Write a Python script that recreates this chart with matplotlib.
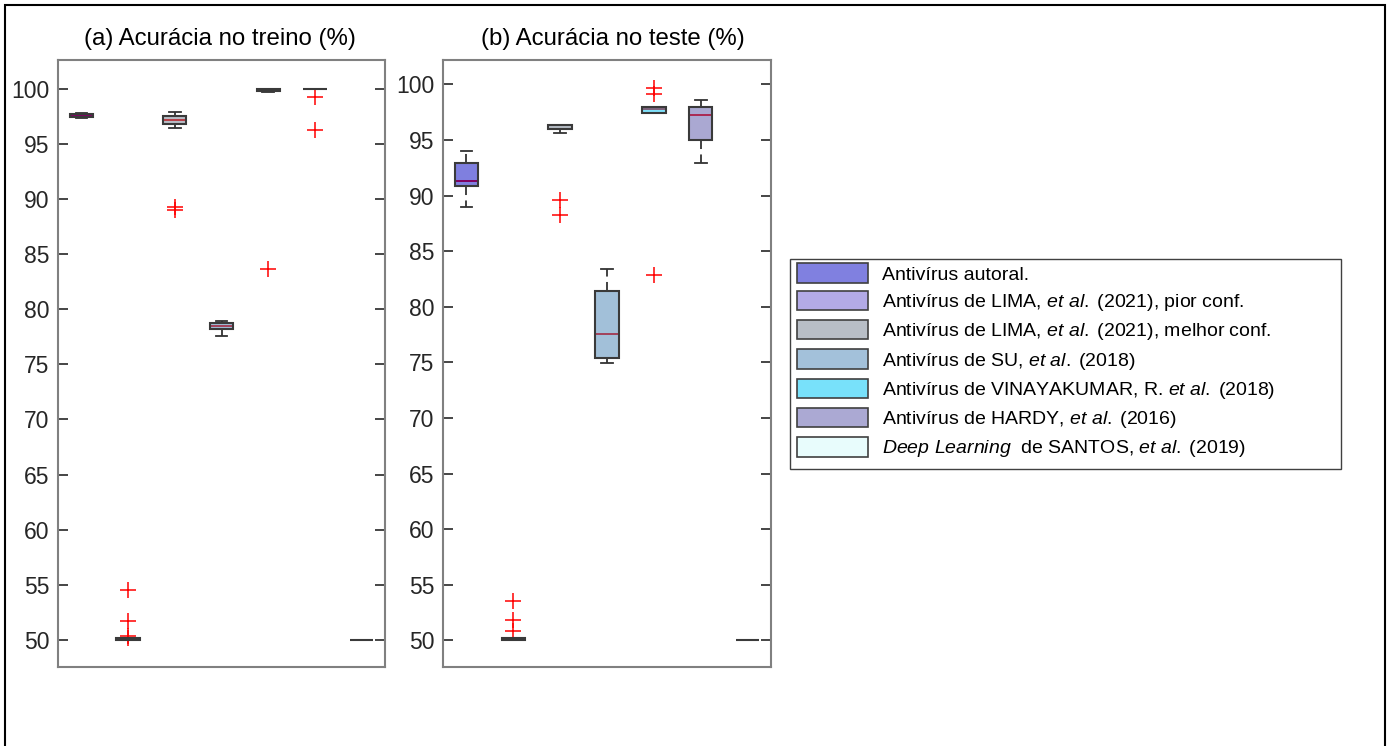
import numpy as np
import matplotlib
matplotlib.use("Agg")
import matplotlib.pyplot as plt
from matplotlib.patches import Patch, Rectangle
from matplotlib.colors import to_rgb

plt.rcParams['font.family'] = ['Liberation Sans', 'DejaVu Sans']
plt.rcParams['mathtext.fontset'] = 'custom'
plt.rcParams['mathtext.rm'] = 'Liberation Sans'
plt.rcParams['mathtext.it'] = 'Liberation Sans:italic'

# ---------------- data ----------------
labels = [
    "Antivírus autoral.",
    r"Antivírus de LIMA, $\it{et\ al.}\;$(2021), pior conf.",
    r"Antivírus de LIMA, $\it{et\ al.}\;$(2021), melhor conf.",
    r"Antivírus de SU, $\it{et\ al.}\;$(2018)",
    r"Antivírus de VINAYAKUMAR, R. $\it{et\ al.}\;$(2018)",
    r"Antivírus de HARDY, $\it{et\ al.}\;$(2016)",
    r"$\it{Deep\ Learning}$  de SANTOS, $\it{et\ al.}\;$(2019)",
]
colors = ['#8080E0', '#B3AAE6', '#B8BEC6', '#A3C1DA', '#78E1FA', '#ABA9D3', '#E8FCFC']

# training accuracy: q1, median, q3, lower whisker, upper whisker, outliers
train_q1 = [97.40, 50.00, 96.82, 78.22, 99.80, 100.00, 50.00]
train_med = [97.55, 50.05, 97.16, 78.45, 99.95, 100.00, 50.00]
train_q3 = [97.70, 50.15, 97.49, 78.77, 100.00, 100.00, 50.00]
train_lo = [97.30, 50.00, 96.43, 77.60, 99.70, 100.00, 50.00]
train_hi = [97.80, 50.20, 97.85, 78.95, 100.00, 100.00, 50.00]
train_out = [[], [54.57, 51.70, 50.34, 50.15], [89.23, 88.96], [], [83.67], [99.25, 96.22], []]

# test accuracy
test_q1 = [90.91, 50.00, 95.97, 75.40, 97.47, 94.97, 50.00]
test_med = [91.33, 50.10, 96.33, 77.55, 97.77, 97.23, 50.00]
test_q3 = [92.96, 50.20, 96.33, 81.41, 98.01, 97.98, 50.00]
test_lo = [88.95, 50.00, 95.67, 74.95, 97.47, 92.96, 50.00]
test_hi = [94.00, 50.20, 96.33, 83.39, 98.01, 98.58, 50.00]
test_out = [[], [53.57, 51.86, 50.84], [89.62, 88.27], [], [99.64, 99.10, 82.85], [], []]

titles = ["(a) Acurácia no treino (%)", "(b) Acurácia no teste (%)"]
yticks = list(range(50, 101, 5))

# ---------------- figure ----------------
W, H = 1390, 746
fig = plt.figure(figsize=(W / 100, H / 100), dpi=100)

# outer frame
fig.add_artist(Rectangle((5 / W, -0.05), 1380 / W, 1 - 5 / H + 0.05,
                         transform=fig.transFigure, fill=False,
                         edgecolor='black', linewidth=1.5))

ax_a = fig.add_axes([58 / W, 1 - 667 / H, 327 / W, 607 / H])
ax_b = fig.add_axes([443 / W, 1 - 667 / H, 328 / W, 607 / H])


def stats_list(q1, med, q3, lo, hi, out):
    res = []
    for i in range(len(q1)):
        res.append(dict(q1=q1[i], med=med[i], q3=q3[i], whislo=lo[i],
                        whishi=hi[i], fliers=out[i]))
    return res


def under_color(c):
    # colour of a half-transparent patch so that it looks like c on white
    r = np.clip(2 * np.array(to_rgb(c)) - 1, 0, 1)
    return (r[0], r[1], r[2], 0.5)


def draw(ax, st, ylim, title, tx):
    bp = ax.bxp(st, positions=range(1, 8), widths=0.5, patch_artist=True,
                showfliers=True,
                boxprops=dict(edgecolor='#3a3a3a', linewidth=1.5, zorder=3),
                medianprops=dict(color='red', linewidth=1.4, zorder=2),
                whiskerprops=dict(color='#333333', linewidth=1.3,
                                  linestyle=(0, (5, 3))),
                capprops=dict(color='#333333', linewidth=1.3),
                flierprops=dict(marker='+', markeredgecolor='red',
                                markersize=12, markeredgewidth=1.1,
                                linestyle='none'))
    for patch, c in zip(bp['boxes'], colors):
        patch.set_facecolor(under_color(c))
    ax.set_xlim(0.5, 7.5)
    ax.set_ylim(*ylim)
    ax.set_yticks(yticks)
    ax.set_xticks([])
    ax.tick_params(axis='y', direction='in', length=7, width=1.2,
                   labelsize=16.5, labelcolor='#262626', color='#262626',
                   left=True, right=True, pad=6)
    for s in ax.spines.values():
        s.set_color('#808080')
        s.set_linewidth(1.5)
    ax.set_title(title, fontsize=17.3, pad=11, color='black', x=tx)


draw(ax_a, stats_list(train_q1, train_med, train_q3, train_lo, train_hi, train_out),
     (47.55, 102.6), titles[0], 0.494)
draw(ax_b, stats_list(test_q1, test_med, test_q3, test_lo, test_hi, test_out),
     (47.6, 102.2), titles[1], 0.518)

handles = [Patch(facecolor=c, edgecolor='#404040', linewidth=1.2) for c in colors]
leg = fig.legend(handles, labels, loc='upper left',
                 bbox_to_anchor=(790 / W, 1 - 256 / H),
                 bbox_transform=fig.transFigure,
                 fontsize=14, frameon=False,
                 handlelength=3.65, handleheight=1.16,
                 handletextpad=0.72, labelspacing=0.36, borderpad=0.38,
                 borderaxespad=0)
# MATLAB-like legend frame (wider than the text)
fig.add_artist(Rectangle((790 / W, 1 - 469 / H), 551 / W, 210 / H,
                         transform=fig.transFigure, fill=False,
                         edgecolor='#404040', linewidth=1.0))

fig.savefig("out.png", dpi=100, facecolor='white')
